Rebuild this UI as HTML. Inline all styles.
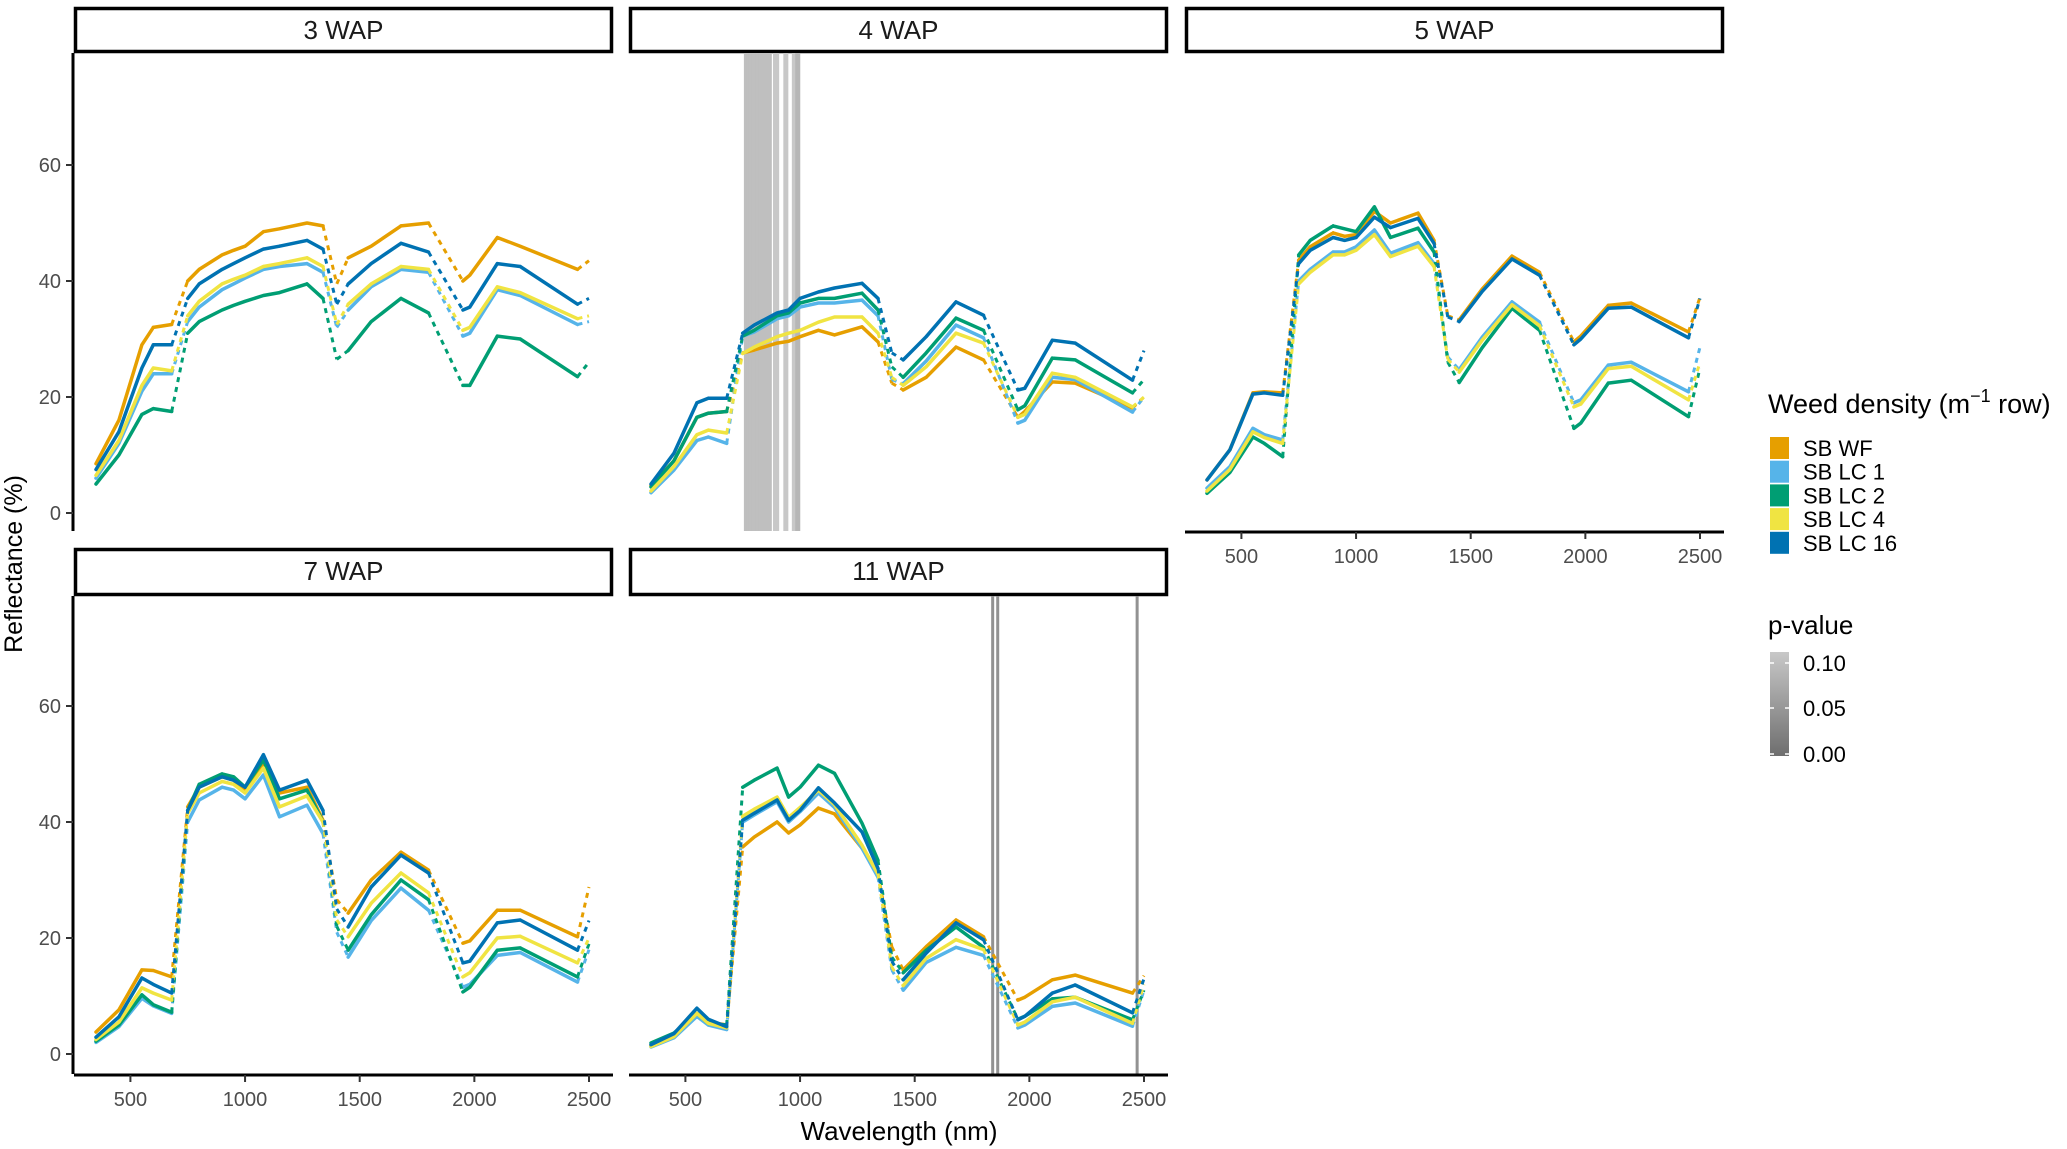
<!DOCTYPE html>
<html><head><meta charset="utf-8"><style>
html,body{margin:0;padding:0;background:#fff;}
svg{display:block;font-family:"Liberation Sans",Arial,sans-serif;}
</style></head><body>
<svg id="chart" width="2067" height="1149" viewBox="0 0 2067 1149" xmlns="http://www.w3.org/2000/svg"></svg>
<script>
const waves = [350,450,550,600,680,750,800,900,950,1000,1080,1150,1270,1340,1400,1450,1550,1680,1800,1950,1980,2100,2200,2450,2500];
const seriesNames = ["SB WF","SB LC 1","SB LC 2","SB LC 4","SB LC 16"];
const seriesColors = ["#E69F00","#56B4E9","#009E73","#F0E442","#0072B2"];
const panelTitles = ["3 WAP","4 WAP","5 WAP","7 WAP","11 WAP"];
const yTicks = [0,20,40,60];
const xTicks = [500,1000,1500,2000,2500];
// 3 WAP
const p3_WF  = [8.5,16,29,32,32.5,40,42,44.5,45.3,46,48.5,49,50,49.5,39.5,44,46,49.5,50,40,41,47.5,46,42,43.5];
const p3_LC1 = [6,12,21,24,24,33,35.5,38.5,39.5,40.5,42,42.5,43,41.5,32,35,39,42,41.5,30.5,31,38.5,37.5,32.5,33];
const p3_LC2 = [5,10,17,18,17.5,31,33,35,35.8,36.5,37.5,38,39.5,37,26.5,28,33,37,34.5,22,22,30.5,30,23.5,26];
const p3_LC4 = [6.5,12.5,22,25,24.5,34,36.5,39.5,40.3,41,42.5,43,44,42.5,32.5,36,39.5,42.5,42,31.5,32,39,38,33.5,34];
const p3_LC16= [7.5,14,25,29,29,37,39.5,42,43,44,45.5,46,47,45.5,36,39.5,43,46.5,45,35,35.5,43,42.5,36,37];
// 4 WAP
const p4_WF  = [4.7,9,16.5,17.2,17.5,27.6,28.1,29.3,29.6,30.4,31.5,30.7,32.1,29.5,22.4,21.2,23.4,28.6,26.4,16.5,17.5,22.6,22.4,18.1,20];
const p4_LC1 = [3.5,7.4,12.5,13.1,12,30.5,31.2,33.5,34,35.5,36.2,36.2,36.7,34,23,22.3,26.2,32.4,30.2,15.5,16,23.4,23,17.4,20];
const p4_LC2 = [4.5,9,16.5,17.2,17.5,30.5,31.5,34,34.5,36.2,37,37,37.9,35,25.2,23.4,27.6,33.6,31.5,17.8,18.5,26.7,26.4,20.7,23];
const p4_LC4 = [3.8,8,13.5,14.3,13.8,27.5,28.6,30.4,31,31.5,32.9,33.8,33.8,31,23.4,22,25.2,31,29.3,16.5,17,24.1,23.4,18.3,20];
const p4_LC16= [5,10.3,19,19.8,19.8,31,32.4,34.5,35,37,38.1,38.8,39.6,37,27.6,26.4,30.4,36.4,34.1,21.2,21.5,29.8,29.3,22.9,28];
// 5 WAP
const p5_WF  = [5.7,10.9,20.7,20.9,20.7,43.6,45.9,48.3,47.7,48,52,50,51.7,47,34,33.3,38.6,44.3,41.5,29.5,30.5,35.8,36.2,31.2,37.2];
const p5_LC1 = [4.3,8,14.6,13.5,12.6,40,42,45,45,45.9,48.8,44.8,46.6,43,26.9,24.7,30.3,36.4,32.9,19,19.5,25.5,26,20.9,28.6];
const p5_LC2 = [3.4,7,13.1,12,9.7,44.5,47,49.5,49,48.5,52.8,47.5,49.1,45,26,22.5,28.5,35.3,31.5,14.6,15.5,22.4,22.9,16.6,25];
const p5_LC4 = [3.8,7.5,14,13,12,39.5,41.5,44.5,44.5,45.3,48,44.2,46,42.5,26.5,24.3,29.8,35.9,32.3,18.3,18.8,24.9,25.3,19.5,26];
const p5_LC16= [5.7,10.9,20.5,20.7,20.3,43,45.3,47.5,47,47.5,51,49.2,50.8,46.5,33.8,33,38.2,43.8,41,29,30,35.3,35.5,30.2,37];
// 7 WAP
const p7_WF  = [3.8,7.6,14.5,14.4,13.3,42.6,46,47.8,47.2,45.5,50.2,45,46,40.3,26.6,24.3,30,34.8,31.7,19.1,19.5,24.8,24.8,20.2,28.8];
const p7_LC1 = [2,4.7,9.6,8.3,7,40,43.8,46,45.5,44,48.1,40.9,42.9,38,21,16.7,23,28.6,24.8,11.5,12,17,17.5,12.4,18];
const p7_LC2 = [2.2,5,10.2,8.5,7.2,42,46.5,48.3,47.8,46,50.7,44,45.5,40,22,17.9,24,30,26.6,10.7,11.5,17.9,18.3,13.3,19];
const p7_LC4 = [2.5,5.5,11.4,10.5,9.3,41.5,45,47,46.5,45,49.3,42.6,44.5,40,23.1,20.2,26,31.2,27.8,13.3,14,20,20.3,15.7,20];
const p7_LC16= [2.9,6.4,13.1,12,10.5,42,46,47.8,47.2,46,51.6,45.5,47.2,42,25,21.9,28.8,34.3,31.2,15.7,16,22.6,23.1,17.9,23];
// 11 WAP
const p11_WF  = [1.5,3.2,7,5.5,5,35.7,37.4,40,38.1,39.5,42.4,41.4,35.5,31,18.5,14.5,18.5,23.1,20.2,9.3,9.8,12.8,13.6,10.5,13.5];
const p11_LC1 = [1.2,2.8,6.5,5,4.2,40,41.2,43.5,40,41.8,45,42.5,35.5,30.5,14.5,11,15.8,18.4,17,4.5,5,8.2,8.8,4.8,11];
const p11_LC2 = [1.9,3.6,7,5.3,5,46,47.2,49.3,44.3,46,49.8,48.4,39.8,33.4,16.7,14,17.9,21.9,18.4,6,6.5,9.5,9.8,5.9,11];
const p11_LC4 = [1.3,3,7,5.3,4.5,41,42.2,44.3,40.8,42.5,45.5,43,36,31,15,11.8,16.5,19.7,18,5,5.5,9,9.8,5.3,12];
const p11_LC16= [1.6,3.5,7.9,6,4.7,40.3,41.5,43.8,40.3,42,45.9,43.3,38.3,32,16,12.8,17.4,22.6,19.7,5.9,6.5,10.5,11.9,7.1,13];
// significant wavelengths (p-values)
const p4SigWaves = [766,770,774,778,782,786,790,794,798,802,806,810,814,818,822,826,830,834,838,842,846,850,854,858,862,866,893,898,938,975,990];
const p4SigP = [0.09,0.09,0.09,0.09,0.09,0.09,0.09,0.09,0.09,0.09,0.09,0.09,0.09,0.09,0.09,0.09,0.09,0.09,0.09,0.09,0.09,0.09,0.09,0.09,0.09,0.09,0.1,0.1,0.1,0.1,0.08];
const p11SigWaves = [1840,1862,2470];
const p11SigP = [0.04,0.04,0.04];

const panelData = [
  [p3_WF,p3_LC1,p3_LC2,p3_LC4,p3_LC16],
  [p4_WF,p4_LC1,p4_LC2,p4_LC4,p4_LC16],
  [p5_WF,p5_LC1,p5_LC2,p5_LC4,p5_LC16],
  [p7_WF,p7_LC1,p7_LC2,p7_LC4,p7_LC16],
  [p11_WF,p11_LC1,p11_LC2,p11_LC4,p11_LC16]
];
const panelSig = [null,[p4SigWaves,p4SigP],null,null,[p11SigWaves,p11SigP]];

const NS = "http://www.w3.org/2000/svg";
const svg = document.getElementById("chart");
function mk(tag, attrs, parent){ const e=document.createElementNS(NS,tag); for(const k in attrs) e.setAttribute(k,attrs[k]); (parent||svg).appendChild(e); return e; }

const colLeft=[74,629,1185], panelW=539;
const rowStripTop=[7,548], rowPlotTop=[53,596], rowPlotBot=[531,1074], rowZero=[513,1054];
const pxPerUnit=5.8, nmMin=254, pxPerNm=0.2293;
const gaps=[[680,750],[1340,1450],[1800,1950],[2450,2500]];
const panelPos=[[0,0],[1,0],[2,0],[0,1],[1,1]];
function greyFor(p){ const v=Math.round(110+ (200-110)*p/0.1); return "rgb("+v+","+v+","+v+")"; }

panelPos.forEach(([c,r],i)=>{
  const x0=colLeft[c];
  const xs=nm=>x0+(nm-nmMin)*pxPerNm;
  const ys=v=>rowZero[r]-v*pxPerUnit;
  const g=mk("g",{});
  
  
  const strip=mk("rect",{x:x0+1.5,y:rowStripTop[r]+1.5,width:panelW-3,height:rowPlotTop[r]-rowStripTop[r]-3,fill:"#fff",stroke:"#000","stroke-width":3.5},g);
  
  
  const st=mk("text",{x:x0+panelW/2,y:rowStripTop[r]+32,"text-anchor":"middle","font-size":26,fill:"#1a1a1a"},g);
  st.textContent=panelTitles[i];
  
  
  if(panelSig[i]){
    const [sw,sp]=panelSig[i];
    sw.forEach((w,k)=>{
      const l=mk("line",{x1:xs(w),x2:xs(w),y1:rowPlotTop[r],y2:rowPlotBot[r],stroke:greyFor(sp[k]),"stroke-width":i===4?3:5},g);
      
      
    });
  }
  [0,1,2,3,4].forEach(s=>{
    const vals=panelData[i][s];
    const sg=mk("g",{},g);
    
    
    let solid="", dashed="";
    for(let k=0;k<waves.length-1;k++){
      const mid=(waves[k]+waves[k+1])/2;
      const inGap=gaps.some(([a,b])=>mid>a&&mid<b);
      const seg="M"+xs(waves[k]).toFixed(1)+","+ys(vals[k]).toFixed(1)+"L"+xs(waves[k+1]).toFixed(1)+","+ys(vals[k+1]).toFixed(1);
      if(inGap) dashed+=seg; else solid+=seg;
    }
    mk("path",{d:solid,fill:"none",stroke:seriesColors[s],"stroke-width":3.5,"stroke-linejoin":"round","stroke-linecap":"round"},sg);
    mk("path",{d:dashed,fill:"none",stroke:seriesColors[s],"stroke-width":3,"stroke-dasharray":"5 5"},sg);
  });
  if(c===0){
    const ax=mk("line",{x1:73,x2:73,y1:rowPlotTop[r],y2:rowPlotBot[r],stroke:"#000","stroke-width":3},g);
    
    
    yTicks.forEach(t=>{
      mk("line",{x1:66,x2:73,y1:ys(t),y2:ys(t),stroke:"#333","stroke-width":2},g);
      const tl=mk("text",{x:61,y:ys(t)+7,"text-anchor":"end","font-size":20,fill:"#4d4d4d"},g);
      tl.textContent=t;
      
      
    });
  }
  if(r===1||c===2){
    const ax=mk("line",{x1:x0,x2:x0+panelW,y1:rowPlotBot[r]+1,y2:rowPlotBot[r]+1,stroke:"#000","stroke-width":3},g);
    
    
    xTicks.forEach(t=>{
      mk("line",{x1:xs(t),x2:xs(t),y1:rowPlotBot[r]+1,y2:rowPlotBot[r]+8,stroke:"#333","stroke-width":2},g);
      const tl=mk("text",{x:xs(t),y:rowPlotBot[r]+32,"text-anchor":"middle","font-size":20,fill:"#4d4d4d"},g);
      tl.textContent=t;
      
      
    });
  }
});

const yt=mk("text",{x:0,y:0,transform:"translate(22,564) rotate(-90)","text-anchor":"middle","font-size":25,fill:"#000"});
yt.textContent="Reflectance (%)";


const xt=mk("text",{x:899,y:1140,"text-anchor":"middle","font-size":26,fill:"#000"});
xt.textContent="Wavelength (nm)";



const lg=mk("g",{});


const lt=mk("text",{x:1768,y:413,"font-size":27,fill:"#000"},lg);
lt.innerHTML='Weed density (m<tspan dy="-11" font-size="18">−1</tspan><tspan dy="11"> row)</tspan>';


seriesNames.forEach((n,s)=>{
  const cy=448+s*23.7;
  const e=mk("g",{},lg);
  
  
  mk("rect",{x:1770,y:cy-11,width:19,height:22,fill:seriesColors[s]},e);
  const t=mk("text",{x:1803,y:cy+8,"font-size":22,fill:"#000"},e);
  t.textContent=n;
});
const pg=mk("g",{});


const pt=mk("text",{x:1768,y:634,"font-size":26,fill:"#000"},pg);
pt.textContent="p-value";
const defs=mk("defs",{});
const grad=mk("linearGradient",{id:"pg",x1:0,y1:0,x2:0,y2:1},defs);
mk("stop",{offset:"0","stop-color":"#c8c8c8"},grad);
mk("stop",{offset:"1","stop-color":"#6e6e6e"},grad);
const cb=mk("rect",{x:1770,y:652,width:19,height:104,fill:"url(#pg)"},pg);


[["0.10",663],["0.05",708],["0.00",754]].forEach(([l,y])=>{
  mk("line",{x1:1770,x2:1774,y1:y,y2:y,stroke:"#fff","stroke-width":1.5},pg);
  mk("line",{x1:1785,x2:1789,y1:y,y2:y,stroke:"#fff","stroke-width":1.5},pg);
  const t=mk("text",{x:1803,y:y+8,"font-size":22,fill:"#000"},pg);
  t.textContent=l;
});
</script>
</body></html>
